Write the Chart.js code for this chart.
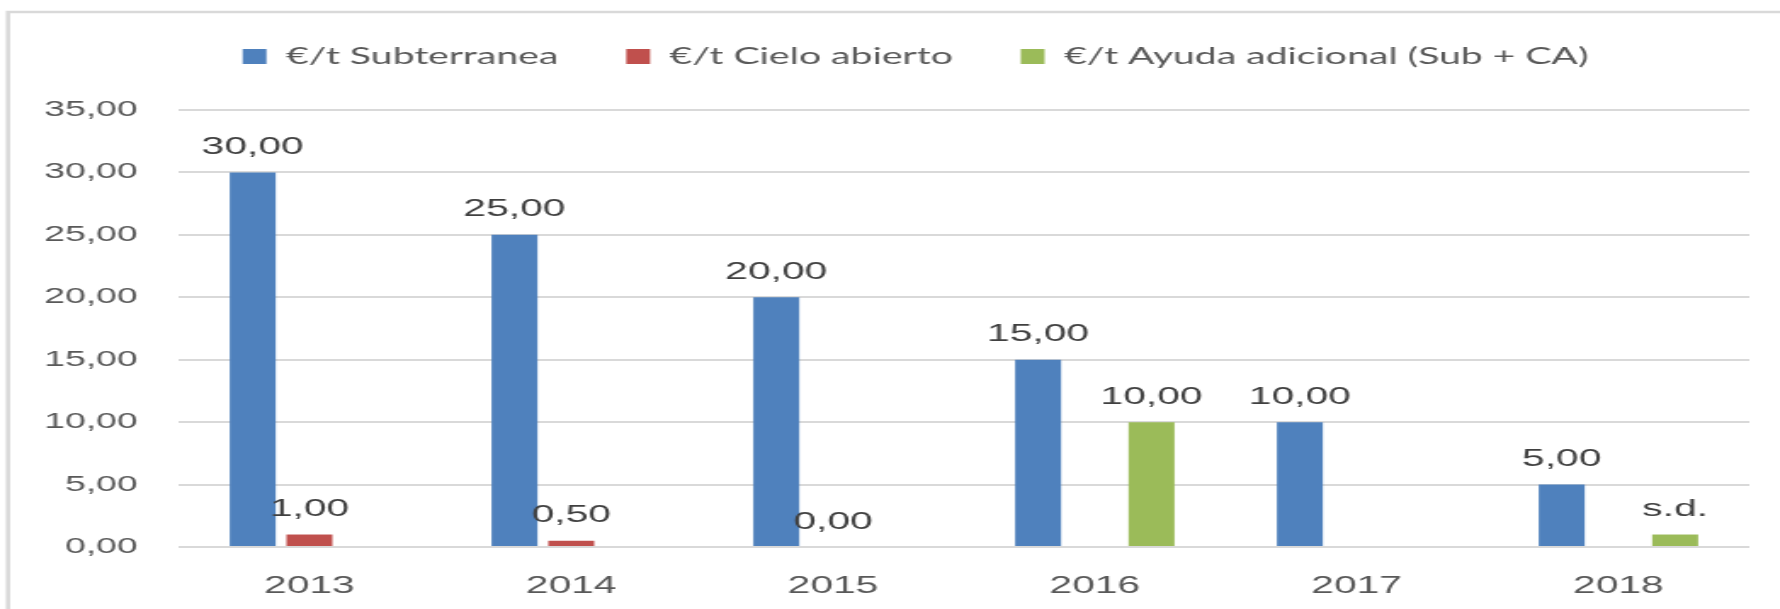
<!DOCTYPE html>
<html>
<head>
<meta charset="utf-8">
<script src="https://cdn.jsdelivr.net/npm/chart.js@4.4.0/dist/chart.umd.min.js"></script>
<style>
body{margin:0;background:#fff;overflow:hidden}
#wrap{width:1047px;height:609px;transform:scaleX(1.7);transform-origin:0 0}
</style>
</head>
<body>
<div id="wrap"><canvas id="grafico" width="1047" height="609"></canvas></div>
<script>
// datos
var anios = ['2013', '2014', '2015', '2016', '2017', '2018'];
var subterranea = [30, 25, 20, 15, 10, 5];
var cieloAbierto = [1, 0.5, 0, null, null, null];
var ayudaAdicional = [null, null, null, 10, null, 1];
var ayudaTexto = [null, null, null, null, null, 's.d.'];
var ejeY = [0, 5, 10, 15, 20, 25, 30, 35];

var fuente = '"Liberation Sans", Arial, sans-serif';

function coma(v) {
	return v.toFixed(2).replace('.', ',');
}

// marco gris, leyenda movida y etiquetas de valores
var extras = {
	id: 'extras',
	afterLayout: function(chart) {
		var lg = chart.legend;
		lg.left += 24; lg.right += 24;
		lg.top -= 32; lg.bottom -= 32;
	},
	beforeDraw: function(chart) {
		var ctx = chart.ctx;
		ctx.save();
		ctx.fillStyle = '#fff';
		ctx.fillRect(0, 0, chart.width, chart.height);
		ctx.strokeStyle = '#d9d9d9';
		ctx.lineWidth = 2.5;
		ctx.beginPath();
		ctx.moveTo(4.7, chart.height + 5);
		ctx.lineTo(4.7, 12);
		ctx.lineTo(chart.width + 5, 12);
		ctx.stroke();
		ctx.restore();
	},
	afterDatasetsDraw: function(chart) {
		var ctx = chart.ctx;
		ctx.save();
		ctx.font = '24px ' + fuente;
		ctx.fillStyle = '#404040';
		ctx.textAlign = 'center';
		ctx.textBaseline = 'middle';
		chart.data.datasets.forEach(function(ds, i) {
			var meta = chart.getDatasetMeta(i);
			meta.data.forEach(function(bar, j) {
				var v = ds.data[j];
				if (v === null) return;
				var txt = coma(v);
				if (ds.textos && ds.textos[j]) txt = ds.textos[j];
				ctx.fillText(txt, bar.x, bar.y - 25);
			});
		});
		ctx.restore();
	}
};

new Chart(document.getElementById('grafico'), {
	type: 'bar',
	data: {
		labels: anios,
		datasets: [{
			label: '€/t Subterranea',
			data: subterranea,
			backgroundColor: '#4f81bd'
		}, {
			label: '€/t Cielo abierto',
			data: cieloAbierto,
			backgroundColor: '#c0504d'
		}, {
			label: '€/t Ayuda adicional (Sub + CA)',
			data: ayudaAdicional,
			textos: ayudaTexto,
			backgroundColor: '#9bbb59'
		}]
	},
	options: {
		responsive: false,
		animation: false,
		devicePixelRatio: 1,
		barPercentage: 0.81,
		categoryPercentage: 0.65,
		layout: { padding: { left: 0, right: 18, top: 37, bottom: 0 } },
		plugins: {
			tooltip: { enabled: false },
			legend: {
				position: 'top',
				labels: {
					boxWidth: 14,
					boxHeight: 15,
					padding: 40,
					color: '#595959',
					font: { family: 'Lato, sans-serif', size: 23 }
				}
			}
		},
		scales: {
			x: {
				grid: { display: false },
				border: { display: false },
				ticks: { color: '#595959', padding: 17, font: { family: fuente, size: 24 } },
				afterFit: function(s) { s.height = 62; }
			},
			y: {
				min: 0,
				max: 35,
				afterBuildTicks: function(s) { s.ticks = ejeY.map(function(v) { return { value: v }; }); },
				grid: { color: '#d9d9d9', lineWidth: 2, drawTicks: false },
				border: { display: false },
				ticks: {
					color: '#595959',
					padding: 24,
					font: { family: fuente, size: 22 },
					callback: function(v) { return coma(v); }
				},
				afterFit: function(s) { s.width = 105; }
			}
		}
	},
	plugins: [extras]
});
</script>
</body>
</html>
